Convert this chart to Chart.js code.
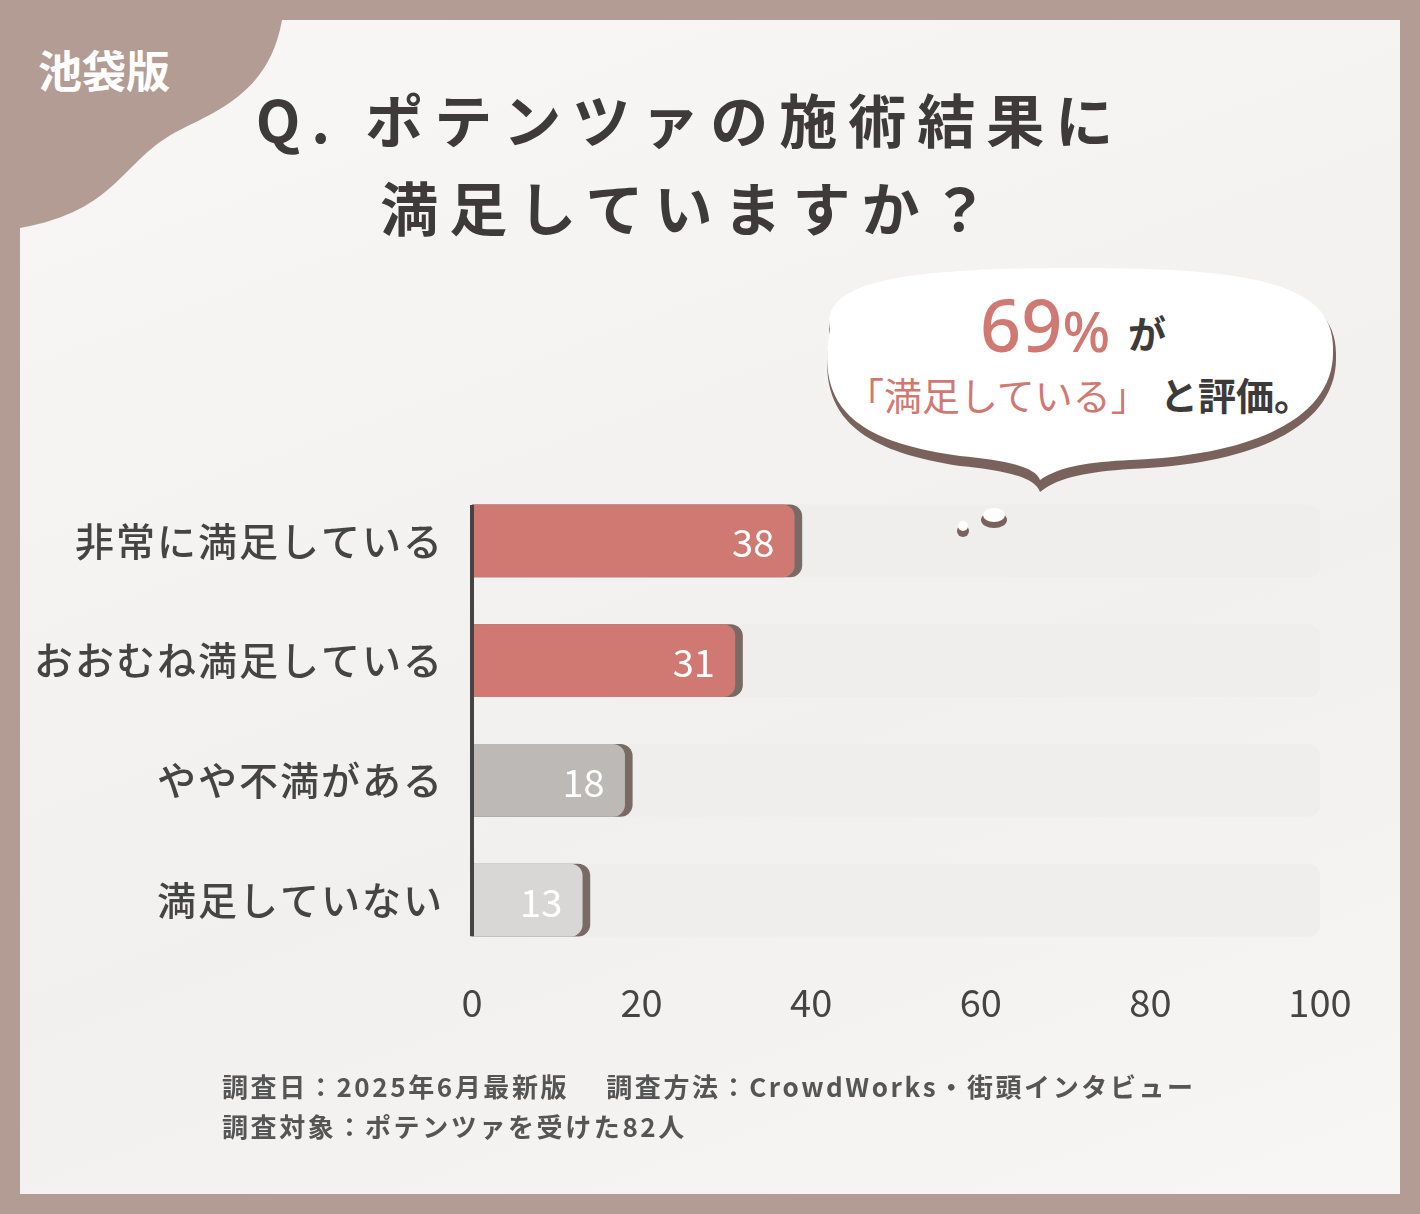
<!DOCTYPE html>
<html><head><meta charset="utf-8">
<script src="https://cdn.jsdelivr.net/npm/chart.js@4"></script>
<style>
body{margin:0;width:1420px;height:1214px;background:#b39c94;position:relative;overflow:hidden;font-family:"Noto Sans CJK JP","Noto Sans",sans-serif}
#panel{position:absolute;left:20px;top:20px;width:1380px;height:1174px;background:linear-gradient(160deg,#f8f7f6,#f1f0ef 60%,#f7f6f5)}
#chartBox{position:absolute;left:0;top:0;width:1420px;height:1214px}
.abs{position:absolute}
#title{left:200px;width:980px;top:74px;text-align:center;font-size:58px;font-weight:700;color:#3d3a39;letter-spacing:11px;line-height:88px}
#foot{left:222px;top:1066px;font-size:26px;font-weight:700;color:#555;line-height:40px;letter-spacing:2.6px}
</style></head><body>
<div id="panel"></div>
<svg class="abs" style="left:0;top:0" width="1420" height="600">
  <path d="M20 20 H282 C270 90 220 110 180 130 C120 160 120 210 20 228 Z" fill="#b39c94"/>
  <text x="38" y="88" font-size="44" font-weight="700" fill="#fff" font-family="Noto Sans CJK JP">池袋版</text>
  <path d="M830 336 C820 286 900 272 1075 272 C1250 272 1338 286 1336 356 C1338 424 1260 464 1130 469 C1090 472 1060 476 1040 492 C1035 476 1000 470 960 466 C860 451 815 416 830 336 Z" fill="#7a625c"/>
  <path d="M830 330 C820 282 900 268 1075 268 C1250 268 1335 282 1333 350 C1335 415 1260 455 1130 460 C1090 462 1060 466 1040 480 C1035 465 1000 460 960 456 C860 442 815 410 830 330 Z" fill="#fff"/>
  <text x="980" y="352" font-size="72" font-weight="500" fill="#d07872" font-family="Noto Sans">69<tspan font-size="56">%</tspan></text>
  <text x="1128" y="348" font-size="38" font-weight="700" fill="#3d3a39" font-family="Noto Sans CJK JP">が</text>
  <text x="846" y="410" font-size="38" fill="#d07872" font-family="Noto Sans CJK JP">「満足している」</text>
  <text x="1160" y="410" font-size="38" font-weight="700" fill="#3d3a39" font-family="Noto Sans CJK JP">と評価。</text>
</svg>
<div id="title" class="abs">Q. ポテンツァの施術結果に<br>満足していますか？</div>
<div id="chartBox"><canvas id="c" width="1420" height="1214"></canvas></div>
<svg class="abs" style="left:0;top:0" width="1420" height="600">
  <ellipse cx="994" cy="520" rx="13" ry="8" fill="#7a625c"/><ellipse cx="994" cy="515" rx="11" ry="7" fill="#fff"/>
  <circle cx="963" cy="531" r="6" fill="#7a625c"/><circle cx="963" cy="526" r="5" fill="#fff"/>
</svg>
<div id="foot" class="abs">調査日：2025年6月最新版　 調査方法：CrowdWorks・街頭インタビュー<br>調査対象：ポテンツァを受けた82人</div>
<script>
const categories = ['非常に満足している', 'おおむね満足している', 'やや不満がある', '満足していない'];
const values = [38, 31, 18, 13];
const barColors = ['#d07872', '#d07872', '#bdb9b6', '#d9d7d5'];
const trackValues = [100, 100, 100, 100];
const xTicks = [0, 20, 40, 60, 80, 100];

const FONT = '"Noto Sans CJK JP","Noto Sans",sans-serif';

const extras = {
  id: 'extras',
  afterDatasetsDraw(chart) {
    const ctx = chart.ctx;
    const meta = chart.getDatasetMeta(2);
    ctx.save();
    ctx.font = '38px ' + FONT;
    ctx.fillStyle = '#fff';
    ctx.textAlign = 'right';
    ctx.textBaseline = 'middle';
    meta.data.forEach((bar, i) => {
      ctx.fillText(values[i], bar.x - 20, bar.y + 2);
    });
    // category labels, spaced like the picture
    ctx.fillStyle = '#444';
    ctx.font = '500 39px ' + FONT;
    ctx.letterSpacing = '2px';
    meta.data.forEach((bar, i) => {
      ctx.fillText(categories[i], 444, bar.y);
    });
    ctx.letterSpacing = '0px';
    const first = meta.data[0], last = meta.data[meta.data.length - 1];
    const x0 = chart.scales.x.getPixelForValue(0);
    ctx.strokeStyle = '#444';
    ctx.lineWidth = 4;
    ctx.beginPath();
    ctx.moveTo(x0, first.y - first.height / 2);
    ctx.lineTo(x0, last.y + last.height / 2);
    ctx.stroke();
    ctx.restore();
  }
};

new Chart(document.getElementById('c'), {
  type: 'bar',
  data: {
    labels: categories,
    datasets: [
      { data: trackValues, backgroundColor: '#f0eeec', borderRadius: 12, borderSkipped: false, order: 3, barThickness: 72 },
      { data: values.map(v => v + 0.9), backgroundColor: '#7a6a66', borderRadius: 12, borderSkipped: 'start', order: 2, barThickness: 72 },
      { data: values, backgroundColor: barColors, borderRadius: 12, borderSkipped: 'start', order: 1, barThickness: 72 }
    ]
  },
  options: {
    indexAxis: 'y',
    responsive: false,
    animation: false,
    layout: { padding: { top: 481, bottom: 174, right: 100, left: 0 } },
    plugins: { legend: { display: false }, tooltip: { enabled: false } },
    datasets: { bar: { grouped: false } },
    scales: {
      x: {
        min: 0, max: 100,
        afterBuildTicks: s => { s.ticks = xTicks.map(v => ({ value: v })); },
        afterFit: s => { s.height = 80; },
        grid: { display: false }, border: { display: false },
        ticks: { padding: 12, color: '#444', font: { family: FONT, size: 38 } }
      },
      y: {
        afterFit: s => { s.width = 472; },
        grid: { display: false }, border: { display: false },
        ticks: { callback: () => '' }
      }
    }
  },
  plugins: [extras]
});
</script>
</body></html>
